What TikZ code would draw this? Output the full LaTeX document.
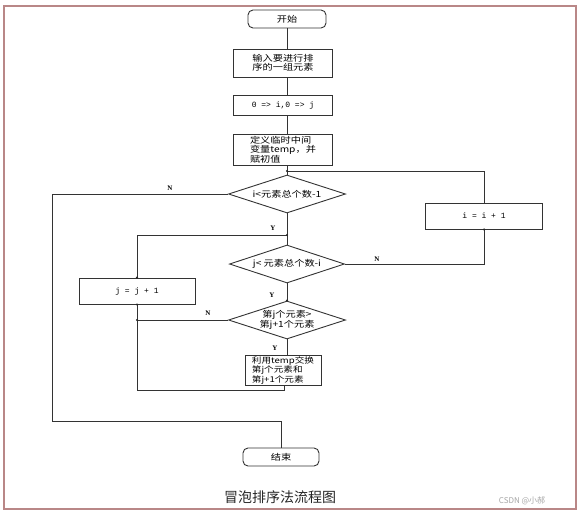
\documentclass[tikz,border=0pt]{standalone}
\usepackage{fontspec}
\usetikzlibrary{shapes.geometric}
\newfontfamily\cjk[FakeStretch=1.2]{Noto Sans CJK SC}
\newfontfamily\cjkcap{Noto Sans CJK SC}
\newfontfamily\monof{Liberation Mono}
\newfontfamily\labf{Liberation Serif}
\begin{document}
\begin{tikzpicture}[x=1pt,y=-1pt,
  ln/.style={draw=black!80, line width=0.9pt},
  box/.style={draw=black!80, line width=0.9pt, rectangle, inner sep=0pt, align=center, font=\cjk\fontsize{8.5}{9}\selectfont},
  term/.style={box, rounded corners=5pt},
  dia/.style={draw=black!80, line width=0.9pt, diamond, inner sep=0pt},
  dlab/.style={font=\cjk\fontsize{8.5}{9}\selectfont, align=center, inner sep=0pt},
  monobox/.style={box, font=\monof\fontsize{8}{9}\selectfont},
  yn/.style={font=\labf\bfseries\fontsize{7}{7}\selectfont, inner sep=0pt},
  dot/.style={circle, fill=black!85, inner sep=0pt, minimum size=2.4pt}]
\useasboundingbox (0,0) rectangle (578,512);
\fill[white] (0,0) rectangle (578,512);
\draw[draw={rgb,255:red,185;green,135;blue,135}, line width=1.2pt] (4,6) rectangle (576,509);

% nodes
\node[term, minimum width=78pt, minimum height=18pt] (start) at (287,19) {开始};
\node[box, minimum width=99pt, minimum height=28pt] (input) at (283,63) {输入要进行排\\序的一组元素};
\node[monobox, minimum width=99pt, minimum height=20pt] (init) at (283,105) {0 => i,0 => j};
\node[box, minimum width=99pt, minimum height=31pt, align=left] (def) at (283,150) {定义临时中间\\变量temp，并\\赋初值};
\node[dia, minimum width=117pt, minimum height=38pt, label={[dlab]center:i<元素总个数-1}] (d1) at (287,194) {};
\node[dia, minimum width=115pt, minimum height=38pt, label={[dlab]center:j< 元素总个数-i}] (d2) at (287,264) {};
\node[dia, minimum width=117pt, minimum height=38pt, label={[dlab]center:第j个元素>\\第j+1个元素}] (d3) at (287,320) {};
\node[box, minimum width=76pt, minimum height=30pt, align=left, inner xsep=1.5pt, inner ysep=1pt, font=\cjk\fontsize{8}{8.6}\selectfont] (swap) at (283,370.5) {利用temp交换\\第j个元素和\\第j+1个元素};
\node[monobox, minimum width=117pt, minimum height=26pt] (ii) at (484,216) {i = i + 1};
\node[monobox, minimum width=116pt, minimum height=26pt] (jj) at (137,291) {j = j + 1};
\node[term, minimum width=76pt, minimum height=18pt] (end) at (281,457) {结束};

\coordinate (j1) at (287,171);
\coordinate (j2) at (287,235);
\coordinate (c1) at (52,421);
\coordinate (r1) at (284,390);

% main column
\draw[ln] (start.south) -- (start.south |- input.north);
\draw[ln] (start.south |- input.south) -- (start.south |- init.north);
\draw[ln] (start.south |- init.south) -- (start.south |- def.north);
\draw[ln] (start.south |- def.south) -- (d1.north);
\draw[ln] (d1.south) -- (d2.north);
\draw[ln] (d2.south) -- (d3.north);
\draw[ln] (d3.south) -- (d3.south |- swap.north);

% outer loop
\draw[ln] (d2.east) -| (ii.south);
\draw[ln] (ii.north) |- (j1);

% inner loop
\draw[ln] (swap.south -| r1) -- (r1) -| (jj.south);
\draw[ln] (d3.west) -- (d3.west -| jj.south);
\draw[ln] (jj.north) |- (j2);

% exit
\draw[ln] (d1.west) -| (c1) -| (end.north);

% dots
\node[dot] at (j1) {};
\node[dot] at (j2) {};
\node[dot] at (d3.west -| jj.south) {};
\node[dot] at (jj.north) {};
\node[dot] at (jj.south) {};
\node[dot] at (ii.south) {};
\node[dot] at (d3.north) {};

% labels
\node[yn] (n1) at (170,188) {N};
\node[yn] (y1) at (273,228) {Y};
\node[yn] (n2) at (377,259) {N};
\node[yn] (y2) at (272,295) {Y};
\node[yn] (n3) at (208,313) {N};
\node[yn] (y3) at (275,348) {Y};

% caption
\node[font=\cjkcap\fontsize{14}{15}\selectfont, text=black!85] (cap) at (280,497) {冒泡排序法流程图};
\node[font=\cjkcap\fontsize{8}{9}\selectfont, text=black!35] (wm) at (522,501) {CSDN @小郝};
\end{tikzpicture}
\end{document}
